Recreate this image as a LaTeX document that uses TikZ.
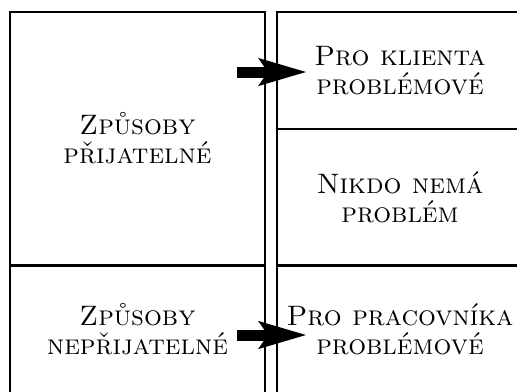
\documentclass[tikz,border=0pt]{standalone}
\usepackage{tikz}
\usetikzlibrary{arrows.meta,positioning,calc}

\begin{document}
\begin{tikzpicture}[
  box/.style={draw, line width=1.7pt, inner sep=0pt, outer sep=0pt,
    align=center, font=\fontsize{16}{16.5}\selectfont\scshape},
  arr/.style={-{Stealth[length=0.94cm, width=0.52cm, inset=0.16cm]},
    line width=0.22cm}]

\useasboundingbox (0,0) rectangle (10.34,-7.82);
\clip (0,0) rectangle (10.34,-7.82);

% Nodes
\node[box, minimum width=5.1cm, minimum height=5.06cm] (prijat) at (2.75,-2.77) {Způsoby\\přijatelné};
\node[box, minimum width=5.1cm, minimum height=2.58cm] (neprijat) at (2.75,-6.59) {Způsoby\\nepřijatelné};
\node[box, minimum width=4.92cm, minimum height=2.34cm] (klient) at (8.0,-1.41) {Pro klienta\\problémové};
\node[box, minimum width=4.92cm, minimum height=2.72cm] (nikdo) at (8.0,-3.94) {Nikdo nemá\\problém};
\node[box, minimum width=4.92cm, minimum height=2.58cm] (pracov) at (8.0,-6.59) {Pro pracovníka\\problémové};

% Arrows
\draw[arr] ([xshift=-0.8cm, yshift=-0.03cm]klient.west) -- ([xshift=0.6cm, yshift=-0.03cm]klient.west);
\draw[arr] ([xshift=-0.8cm, yshift=-0.11cm]pracov.west) -- ([xshift=0.6cm, yshift=-0.11cm]pracov.west);

\end{tikzpicture}
\end{document}
